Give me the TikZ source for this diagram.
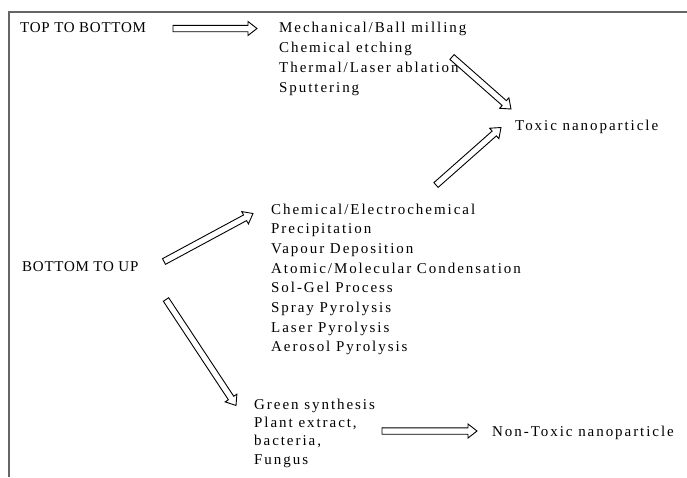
\documentclass[tikz,border=0pt]{standalone}
\usepackage{fontspec}
\setmainfont{Liberation Serif}
\newfontfamily\labfont[LetterSpace=5]{Liberation Serif}
\newfontfamily\listfont[LetterSpace=13]{Liberation Serif}
\usetikzlibrary{calc}

\tikzset{
  frameline/.style={draw=black!60, line width=1.2pt},
  lab/.style={anchor=base west, inner sep=0pt, font=\labfont\fontsize{15}{18}\selectfont, text=black},
  item/.style={anchor=base west, inner sep=0pt, font=\listfont\fontsize{15}{18}\selectfont, text=black},
  fat/.style={draw=black, line width=0.9pt, fill=white, line join=miter},
}

% #1 prefix, #2 tail coordinate, #3 tip coordinate
\newcommand{\fatarrow}[3]{%
  \coordinate (#1h) at ($(#3)!9pt!(#2)$);
  \draw[fat] ($(#2)!3.2pt!90:(#3)$) -- ($(#1h)!3.2pt!-90:(#2)$) --
    ($(#1h)!7pt!-90:(#2)$) -- (#3) -- ($(#1h)!7pt!90:(#2)$) --
    ($(#1h)!3.2pt!90:(#2)$) -- ($(#2)!3.2pt!-90:(#3)$) -- cycle;
}

\begin{document}
\begin{tikzpicture}[x=1pt, y=-1pt]
\useasboundingbox (0,0) rectangle (687,477);

% frame
\draw[frameline] (9,477) -- (9,12) -- (687,12);

% left labels
\node[lab] (ttb) at (20,32.7) {TOP TO BOTTOM};
\node[lab] (btu) at (22,271) {BOTTOM TO UP};

% top-down list
\node[item] (m1) at (279,32.3) {Mechanical/Ball milling};
\node[item] (m2) at (279,52.3) {Chemical etching};
\node[item] (m3) at (279,72.3) {Thermal/Laser ablation};
\node[item] (m4) at (279,92.3) {Sputtering};

% outcomes
\node[item] (toxic) at (515,130) {Toxic nanoparticle};
\node[item] (nontoxic) at (492,436) {Non-Toxic nanoparticle};

% bottom-up list
\node[item] (c1) at (271,214) {Chemical/Electrochemical};
\node[item] (c2) at (271,233.7) {Precipitation};
\node[item] (c3) at (271,253.4) {Vapour Deposition};
\node[item] (c4) at (271,273.1) {Atomic/Molecular Condensation};
\node[item] (c5) at (271,292.8) {Sol-Gel Process};
\node[item] (c6) at (271,312.5) {Spray Pyrolysis};
\node[item] (c7) at (271,332.2) {Laser Pyrolysis};
\node[item] (c8) at (271,351.9) {Aerosol Pyrolysis};

% green list
\node[item] (g1) at (254,409) {Green synthesis};
\node[item] (g2) at (254,427.3) {Plant extract,};
\node[item] (g3) at (254,445.7) {bacteria,};
\node[item] (g4) at (254,464) {Fungus};

% arrow end points
\coordinate (a1s) at (173,28.5);   \coordinate (a1e) at (257,28.5);
\coordinate (a2s) at (452,57);     \coordinate (a2e) at (511,109);
\coordinate (a3s) at (436,185);    \coordinate (a3e) at (501,127.5);
\coordinate (a4s) at (164,261.5);  \coordinate (a4e) at (253,213.5);
\coordinate (a5s) at (166,299.5);  \coordinate (a5e) at (236,405.5);
\coordinate (a6s) at (382,431);    \coordinate (a6e) at (477,431);

\fatarrow{a1}{a1s}{a1e}
\fatarrow{a2}{a2s}{a2e}
\fatarrow{a3}{a3s}{a3e}
\fatarrow{a4}{a4s}{a4e}
\fatarrow{a5}{a5s}{a5e}
\fatarrow{a6}{a6s}{a6e}
\end{tikzpicture}
\end{document}
